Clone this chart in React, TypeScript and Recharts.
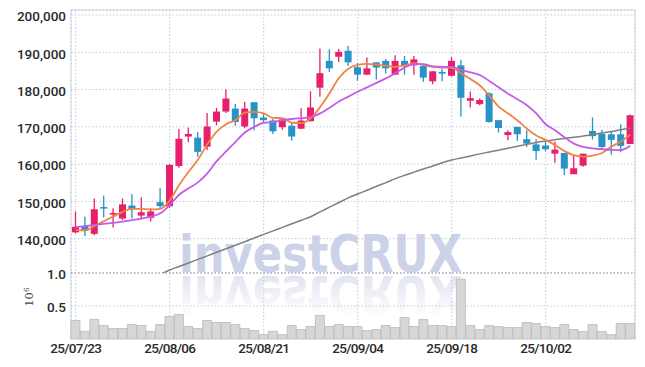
import React from 'react';
import { ComposedChart, Bar, Line, XAxis, YAxis, CartesianGrid, ReferenceLine } from 'recharts';

const dates = ["25/07/23","25/07/24","25/07/25","25/07/28","25/07/29","25/07/30","25/07/31","25/08/01","25/08/04","25/08/05","25/08/06","25/08/07","25/08/08","25/08/11","25/08/12","25/08/13","25/08/14","25/08/18","25/08/19","25/08/20","25/08/21","25/08/22","25/08/25","25/08/26","25/08/27","25/08/28","25/08/29","25/09/01","25/09/02","25/09/03","25/09/04","25/09/05","25/09/08","25/09/09","25/09/10","25/09/11","25/09/12","25/09/15","25/09/16","25/09/17","25/09/18","25/09/19","25/09/22","25/09/23","25/09/24","25/09/25","25/09/26","25/09/29","25/09/30","25/10/01","25/10/02","25/10/10","25/10/13","25/10/14","25/10/15","25/10/16","25/10/17","25/10/20","25/10/21","25/10/22"];

const opens = [141700,143400,141300,148500,146700,145400,148900,146200,145600,149800,148700,159500,167400,167100,164700,171400,174100,174900,170100,176600,172500,171700,169900,170300,169500,171500,180500,187700,188800,190400,186000,184000,187300,187700,184000,187700,186500,186300,182200,184700,183700,186500,177000,176100,179000,171800,167800,170000,166700,165300,165000,162800,163000,157300,159600,168900,168100,168000,168000,165400];
const highs = [147300,145900,150800,151600,148200,150800,151900,151100,148200,153600,160000,169400,169800,168600,173700,175100,180000,176100,176700,176600,173500,172200,172000,171100,175000,179500,191000,190800,190900,191700,187100,188600,187300,188200,189200,189000,189000,186900,184900,185600,188700,188000,179500,177600,179200,171800,169100,170000,169100,166700,166600,166000,163000,162300,162800,172500,169200,168800,170700,173300];
const lows = [141400,140700,140900,145700,143000,145000,145400,145200,144600,148100,148300,159000,165900,162000,163800,170400,173700,170300,169600,169100,171100,168100,169200,166300,169400,171500,178100,184700,187400,186300,182400,184000,182700,184300,184000,184000,184000,182100,181400,182200,183500,172700,175200,175800,171100,168500,166400,166200,164600,161200,163400,160400,157000,157300,159300,166600,164100,162500,163200,165400];
const closes = [143200,142200,147900,148300,146900,149200,147900,147100,147300,148750,159800,166800,168100,163300,170100,174100,177600,171300,174900,172300,171800,168800,172000,167400,171700,175200,184400,185700,190100,187300,184000,185700,185900,185700,187700,186400,188100,183200,184900,184500,187700,177800,177700,177200,171300,169700,168600,168000,165500,163500,164000,163900,158800,158900,162800,167500,164600,166500,164900,173100];

const maShort = [142300,142200,143400,144700,145950,147200,148000,148000,147850,148000,150200,154400,157900,161200,165300,168700,170700,171800,173800,174000,173600,172400,172350,171100,171000,172300,175300,179000,183100,185600,186600,186900,186700,186400,186100,186500,187000,186600,186100,185900,185800,184400,182800,181100,178400,175400,173600,171700,169500,167700,166500,165100,163500,162400,162000,162300,163000,164700,166100,167900];
const maMid = [143100,143400,143700,144000,144250,144600,145000,145400,145900,146800,149000,151800,153500,155100,157500,160800,163400,166000,168500,170000,171100,171300,171800,172100,172350,172600,173600,175100,176800,178100,179400,180600,181800,183000,184400,185900,186800,186800,186200,186100,186100,185300,184600,183900,182300,180600,178900,177400,175800,173600,170700,169100,167200,165500,164600,164200,164000,163800,163750,164900];
const maLong = [null,null,null,null,null,null,null,null,null,130400,131600,132550,133500,134450,135400,136350,137300,138250,139200,140200,141150,142100,143050,144000,144950,145900,147200,148450,149700,150950,152000,153000,154050,155050,156100,157000,157850,158700,159500,160350,161100,161650,162200,162750,163250,163750,164250,164800,165300,165800,166200,166550,166900,167200,167550,167900,168350,168750,169200,169600];
const volumes = [280000,117000,296000,204000,158000,158000,219000,204000,117000,219000,342000,372000,189000,158000,280000,250000,250000,219000,158000,128000,66000,117000,66000,204000,143000,189000,357000,189000,219000,189000,189000,128000,143000,204000,173000,327000,189000,296000,204000,204000,189000,908000,204000,143000,204000,189000,173000,173000,250000,235000,189000,173000,219000,143000,112000,219000,112000,66000,235000,235000];

const priceTicks = [140000,150000,160000,170000,180000,190000,200000];
const volumeTicks = [500000, 1000000];

const data = dates.map((d, i) => ({
  date: d,
  open: opens[i],
  high: highs[i],
  low: lows[i],
  close: closes[i],
  range: [lows[i], highs[i]],
  maShort: maShort[i],
  maMid: maMid[i],
  maLong: maLong[i],
  volume: volumes[i],
}));

const RED = '#e6206b';
const BLUE = '#2992c6';
const FONT = 'Roboto, "Noto Sans", sans-serif';
const GRID = '#c3c8dc';

const Candle = (props: any) => {
  const { x, y, width, height, payload } = props;
  if (!payload) return null;
  const { open, close, high, low } = payload;
  const top = Math.min(y, y + height);
  const h = Math.abs(height);
  const ratio = h / ((high - low) || 1);
  const yOf = (v: number) => top + (high - v) * ratio;
  const up = close >= open;
  const color = up ? RED : BLUE;
  const cx = x + width / 2;
  const bTop = yOf(Math.max(open, close));
  const bBot = yOf(Math.min(open, close));
  return (
    <g>
      <line x1={cx} x2={cx} y1={top} y2={top + h} stroke={color} strokeWidth={1.3} />
      <rect x={x} y={bTop} width={width} height={Math.max(bBot - bTop, 1.6)} fill={color} />
    </g>
  );
};

const PriceTick = (props: any) => {
  const { x, y, payload } = props;
  return (
    <text x={x} y={y} dy={6.3} textAnchor="end" fontFamily={FONT} fontSize={13.5} fontWeight={500} fill="#2a2a2a">
      {Number(payload.value).toLocaleString('en-US')}
    </text>
  );
};

const VolTick = (props: any) => {
  const { x, y, payload } = props;
  return (
    <text x={x} y={y} dy={6.3} textAnchor="end" fontFamily={FONT} fontSize={13.5} fontWeight={500} fill="#2a2a2a">
      {(payload.value / 1e6).toFixed(1)}
    </text>
  );
};

const DateTick = (props: any) => {
  const { x, y, payload } = props;
  return (
    <text x={x} y={y} dy={9.6} textAnchor="middle" fontFamily={FONT} fontSize={13.5} fontWeight={500} fill="#2a2a2a" letterSpacing={-0.7}>
      {payload.value}
    </text>
  );
};

export default function App() {
  return (
    <div style={{ position: 'absolute', left: 0, top: 0, width: 645, height: 367, background: '#fff', overflow: 'hidden' }}>
      <svg width={645} height={367} style={{ position: 'absolute', left: 0, top: 0 }}>
        <defs>
          <linearGradient id="wmFade" gradientUnits="userSpaceOnUse" x1="0" y1="272" x2="0" y2="236">
            <stop offset="0" stopColor="#dde0ee" stopOpacity={0.85} />
            <stop offset="1" stopColor="#dde0ee" stopOpacity={0.1} />
          </linearGradient>
        </defs>
        <rect x={71} y={10} width={564} height={329} fill="none" stroke="#d6d6e0" strokeWidth={1} />
        <g fill="#ccd3e8">
          <text id="wmText" x={179} y={272} fontFamily='"DejaVu Sans", sans-serif' fontWeight="bold" fontSize={51} textLength={283} lengthAdjust="spacingAndGlyphs">investCRUX</text>
        </g>
        <use href="#wmText" transform="translate(0,548) scale(1,-1)" fill="url(#wmFade)" />
        <text transform="translate(33.3,306.7) rotate(-90)" fontFamily='"DejaVu Serif", serif' fontSize={11.5} fill="#444">
          10<tspan dy={-4} fontSize={7}>6</tspan>
        </text>
      </svg>

      <div style={{ position: 'absolute', left: 0, top: 0 }}>
        <ComposedChart width={645} height={273} data={data} margin={{ top: 10, right: 10, bottom: 0, left: 0 }}>
          <CartesianGrid stroke={GRID} strokeDasharray="1.5 2" />
          <XAxis dataKey="date" hide interval={9} />
          <YAxis
            domain={[130800, 201340]}
            allowDataOverflow
            ticks={priceTicks}
            width={71}
            tickLine={false}
            axisLine={false}
            tickSize={0}
            tickMargin={5}
            tick={<PriceTick />}
          />
          <Bar dataKey="range" barSize={7} shape={<Candle />} isAnimationActive={false} />
          <Line type="monotone" dataKey="maLong" stroke="#7f7f7f" strokeWidth={1.5} dot={false} isAnimationActive={false} connectNulls={false} />
          <Line type="monotone" dataKey="maShort" stroke="#f08446" strokeWidth={1.8} dot={false} isAnimationActive={false} />
          <Line type="monotone" dataKey="maMid" stroke="#c65be8" strokeWidth={1.8} dot={false} isAnimationActive={false} />
        </ComposedChart>
      </div>

      <div style={{ position: 'absolute', left: 0, top: 263 }}>
        <ComposedChart width={645} height={104} data={data} margin={{ top: 10, right: 10, bottom: 0, left: 0 }} barCategoryGap={0}>
          <CartesianGrid stroke={GRID} strokeDasharray="1.5 2" />
          <XAxis
            dataKey="date"
            interval={9}
            height={28}
            tickLine={false}
            axisLine={false}
            tickSize={0}
            tickMargin={4}
            tick={<DateTick />}
          />
          <YAxis
            domain={[0, 1000000]}
            allowDataOverflow
            ticks={volumeTicks}
            width={71}
            tickLine={false}
            axisLine={false}
            tickSize={0}
            tickMargin={5}
            tick={<VolTick />}
          />
          <Bar dataKey="volume" fill="#d7d7d7" stroke="#b9b9b9" strokeWidth={0.8} isAnimationActive={false} />
          <ReferenceLine y={1000000} stroke="#9a9aa6" strokeDasharray="1.5 2" />
        </ComposedChart>
      </div>
    </div>
  );
}
